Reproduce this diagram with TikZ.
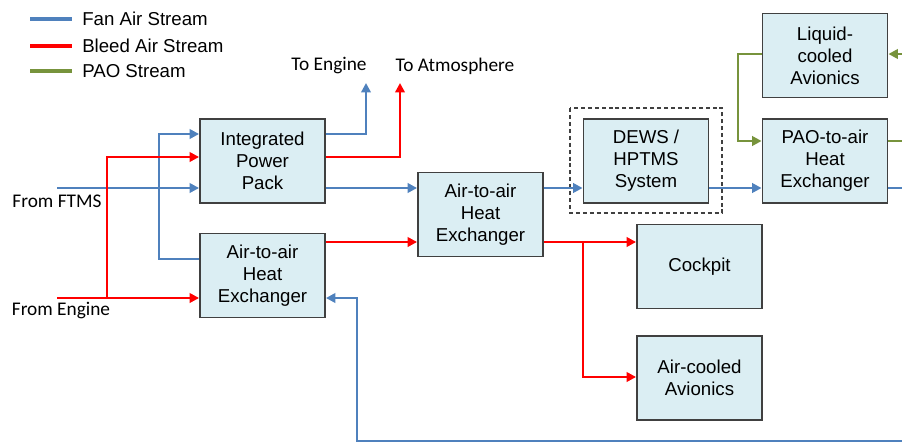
\documentclass[tikz,border=0pt]{standalone}
\usepackage{fontspec}
\setmainfont{Liberation Sans}
\newfontfamily\labelfont{Carlito}
\usetikzlibrary{arrows.meta,calc}
\definecolor{fanblue}{RGB}{79,129,189}
\definecolor{bleedred}{RGB}{255,0,0}
\definecolor{paogreen}{RGB}{119,147,60}
\definecolor{boxfill}{RGB}{219,238,243}
\definecolor{boxedge}{RGB}{64,64,64}

\begin{document}
\begin{tikzpicture}[x=0.75pt,y=-0.75pt,
    box/.style={draw=boxedge, line width=1.4pt, fill=boxfill, minimum width=93.75pt,
      minimum height=63pt, inner sep=0pt, align=center, font=\fontsize{14}{16.5}\selectfont},
    flow/.style={line width=1.8pt, -{Triangle[length=7pt,width=7pt]}},
    fan/.style={draw=fanblue},
    bleed/.style={draw=bleedred},
    pao/.style={draw=paogreen},
    lbl/.style={font=\labelfont\fontsize{14.5}{16}\selectfont, inner sep=0pt},
    key/.style={font=\fontsize{14}{16}\selectfont, anchor=west, inner sep=0pt}]
    \useasboundingbox (0,0) rectangle (902,443);
    % legend
    \draw[fan, line width=2.8pt] (30,19) -- (72,19);
    \draw[bleed, line width=2.8pt] (30,46) -- (72,46);
    \draw[pao, line width=2.8pt] (30,71) -- (72,71);
    \node[key] (kfan) at (82,19) {Fan Air Stream};
    \node[key] (kbleed) at (82,46) {Bleed Air Stream};
    \node[key] (kpao) at (82,71) {PAO Stream};
    % blocks
    \node[box] (ipp) at (262.5,161) {Integrated\\Power\\Pack};
    \node[box] (hxl) at (262.5,275.5) {Air-to-air\\Heat\\Exchanger};
    \node[box] (hxm) at (480.5,214.5) {Air-to-air\\Heat\\Exchanger};
    \node[box] (dews) at (646,161) {DEWS /\\HPTMS\\System};
    \node[box] (lca) at (825,55.5) {Liquid-\\cooled\\Avionics};
    \node[box] (paohx) at (825,161) {PAO-to-air\\Heat\\Exchanger};
    \node[box] (ckp) at (699.5,266.5) {Cockpit};
    \node[box] (aca) at (699.5,378) {Air-cooled\\Avionics};
    \draw[boxedge, line width=1.1pt, dash pattern=on 3pt off 2.2pt] (570,108) rectangle (722,213);
    % inlets and outlets
    \node[lbl] (lftms) at (57,201) {From FTMS};
    \node[lbl] (leng) at (61,311) {From Engine};
    \node[lbl] (ltoeng) at (329,66) {To Engine};
    \node[lbl] (ltoatm) at (455,66) {To Atmosphere};
    \coordinate (ftms) at (57,188);
    \coordinate (eng) at (57,298);
    \coordinate (jeng) at (107,298);
    \coordinate (tipE) at (366,83);
    \coordinate (tipA) at (400,83);
    \coordinate (jcab) at (583,242);
    % fan air
    \draw[fan, flow] (ftms) -- (ipp.west |- ftms);
    \draw[fan, flow] (hxl.west |- 0,259) -- (159,259) |- (ipp.west |- 0,134);
    \draw[fan, flow] (ipp.east |- 0,134) -| (tipE);
    \draw[fan, flow] (ipp.east |- 0,188) -- (hxm.west |- 0,188);
    \draw[fan, flow] (hxm.east |- 0,188) -- (dews.west |- 0,188);
    \draw[fan, flow] (dews.east |- 0,188) -- (paohx.west |- 0,188);
    \draw[fan, line width=1.8pt] (paohx.east |- 0,188) -- (902,188);
    \draw[fan, flow] (902,441) -| (357,298) -- (hxl.east |- 0,298);
    % bleed air
    \draw[bleed, flow] (eng) -- (hxl.west |- eng);
    \draw[bleed, flow] (jeng) |- (ipp.west |- 0,157);
    \draw[bleed, flow] (ipp.east |- 0,157) -| (tipA);
    \draw[bleed, flow] (hxl.east |- 0,242) -- (hxm.west |- 0,242);
    \draw[bleed, flow] (hxm.east |- 0,242) -- (ckp.west |- 0,242);
    \draw[bleed, flow] (jcab) |- (aca.west |- 0,377);
    % PAO loop
    \draw[pao, flow] (lca.west |- 0,54) -| (738,141) -- (paohx.west |- 0,141);
    \draw[pao, line width=1.8pt] (paohx.east |- 0,141) -- (902,141);
    \draw[pao, flow] (902,54) -- (lca.east |- 0,54);
\end{tikzpicture}
\end{document}
